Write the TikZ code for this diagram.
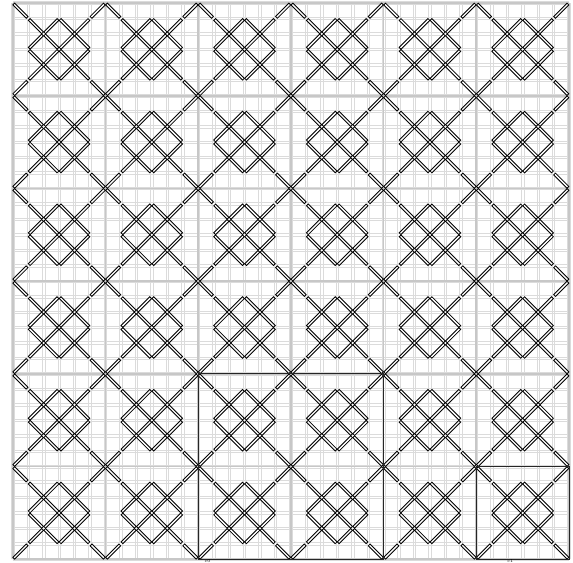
\documentclass[tikz,border=0pt]{standalone}
\begin{document}
\begin{tikzpicture}[x=15.45pt,y=15.45pt,
  gridfine/.style={draw=black!14, line width=0.6pt},
  gridmajor/.style={draw=black!22, line width=1.8pt},
  threadout/.style={draw=black, line width=3.4pt, line cap=butt, shorten <=1.1pt, shorten >=1.1pt},
  threadin/.style={draw=white, line width=1.3pt, line cap=butt, shorten <=2.1pt, shorten >=2.1pt},
  framebox/.style={draw=black!85, line width=1pt},
  lbl/.style={font=\fontsize{4.5}{4.5}\selectfont, inner sep=0pt, anchor=north}]
\useasboundingbox (-0.822,-0.194) rectangle (36.259,36.194);
\fill[white] (-0.822,-0.194) rectangle (36.259,36.194);
% fine grid (double lines)
\foreach \i in {0,...,36}{
  \draw[gridfine] (\i-0.08,0) -- (\i-0.08,36);
  \draw[gridfine] (\i+0.08,0) -- (\i+0.08,36);
  \draw[gridfine] (0,\i-0.08) -- (36,\i-0.08);
  \draw[gridfine] (0,\i+0.08) -- (36,\i+0.08);
}
\foreach \i in {0,6,...,36}{
  \draw[gridmajor] (\i,0) -- (\i,36);
  \draw[gridmajor] (0,\i) -- (36,\i);
}
% stitches
\foreach \tx in {0,...,5}{
  \foreach \ty in {0,...,5}{
    \foreach \c/\r in {0/0,5/0,0/5,5/5,
      1/1,2/1,3/1,4/1,1/2,2/2,3/2,4/2,1/3,2/3,3/3,4/3,1/4,2/4,3/4,4/4}{
      \pgfmathtruncatemacro\p{mod(\c+\r,2)}
      \pgfmathsetmacro\xa{6*\tx+\c}
      \pgfmathsetmacro\yt{36-6*\ty-\r}
      \ifnum\p=0
        \draw[threadout] (\xa,\yt) -- (\xa+1,\yt-1);
        \draw[threadin] (\xa,\yt) -- (\xa+1,\yt-1);
      \else
        \draw[threadout] (\xa,\yt-1) -- (\xa+1,\yt);
        \draw[threadin] (\xa,\yt-1) -- (\xa+1,\yt);
      \fi
    }
  }
}
% highlighted regions
\draw[framebox] (12,0) rectangle (24,12);
\draw[framebox] (30,0) rectangle (36,6);
\node[lbl] (l0) at (12.6,-0.01) {c0};
\node[lbl] (l1) at (32.2,-0.01) {c1};
\end{tikzpicture}
\end{document}
